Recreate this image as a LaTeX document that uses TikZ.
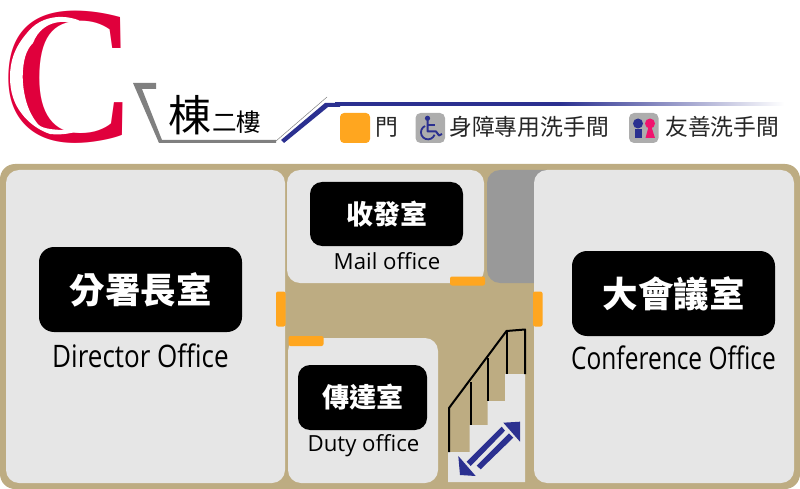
\documentclass[tikz,border=0pt]{standalone}
\usepackage{fontspec}
\setmainfont{Open Sans}
\newfontfamily\cjkfont{Noto Sans CJK TC}
\newfontfamily\condfont[FakeStretch=0.84]{Open Sans}
\newfontfamily\condfontb[FakeStretch=0.79]{Open Sans}
\newfontfamily\logofont[FakeStretch=0.97]{Liberation Serif Bold}
\definecolor{tanfloor}{HTML}{BDAC82}
\definecolor{roomgray}{HTML}{E6E6E6}
\definecolor{doororange}{HTML}{FFA61F}
\definecolor{navyline}{HTML}{2B3090}
\definecolor{cred}{HTML}{E0003C}
\definecolor{iconpink}{HTML}{F0146E}
\tikzset{
	room/.style={fill=roomgray, rounded corners=13pt},
	door/.style={fill=doororange, rounded corners=2pt},
	iconbox/.style={fill=black!32, rounded corners=5pt},
	plate/.style={fill=black, text=white, rounded corners=#1, inner sep=0pt, font=\cjkfont\bfseries},
	plate/.default=15pt,
	legendtext/.style={inner sep=0pt, font=\cjkfont\fontsize{22.8}{22.8}\selectfont, text=black!85},
	engtext/.style={inner sep=0pt, text=black},
	railing/.style={line width=2pt, line join=round}
}

\begin{document}
\begin{tikzpicture}[x=1pt, y=-1pt]
	\useasboundingbox (0, 0) rectangle (800, 489);
	%%%%% HEADER %%%%%
	\node[inner sep=0pt, text=cred, font=\logofont\fontsize{197}{197}\selectfont] (bigC) at (68, 77) {C};
	\fill[white] (97, 43) .. controls (90, 30) and (85, 24) .. (78, 20) .. controls (62, 14) and (40, 16) .. (27, 33) .. controls (14, 48) and (10, 62) .. (10, 77) .. controls (10, 92) and (14, 104) .. (22, 114) .. controls (28, 122) and (38, 130) .. (50, 134) .. controls (70, 136) and (90, 130) .. (100, 113) .. controls (96, 120) and (82, 130) .. (67, 130) .. controls (50, 130) and (40, 128) .. (37, 123) .. controls (28, 112) and (23, 95) .. (22.7, 77) .. controls (23, 60) and (26, 50) .. (33, 43) .. controls (38, 30) and (48, 23) .. (60, 22) .. controls (72, 21) and (85, 26) .. (97, 43) -- cycle;
	\fill[black!50] (133, 83) -- (156, 83) -- (156, 89) -- (142, 89) -- (162, 140) -- (276, 140) -- (276, 143) -- (159, 143) -- cycle;
	\draw[black!50, line width=0.5pt] (276, 141) -- (327, 97);
	\fill[navyline] (281, 140) -- (325, 103) -- (340, 103) -- (340, 107) -- (328, 107) -- (284, 143) -- cycle;
	\shade[left color=navyline, right color=white, middle color=navyline] (335, 103) rectangle (784, 106);
	\node[inner sep=0pt, font=\cjkfont\fontsize{43}{43}\selectfont] (wingname) at (190, 115) {棟};
	\node[inner sep=0pt, font=\cjkfont\fontsize{24.5}{24.5}\selectfont, anchor=west] (floorname) at (212, 122) {二樓};
	%%%%% LEGEND %%%%%
	\fill[door, rounded corners=4pt] (340, 113) rectangle (370, 143);
	\node[legendtext, anchor=west] (doorlabel) at (375, 127) {門};
	\fill[iconbox] (415.5, 113) rectangle (445, 143);
	\fill[navyline] (427.5, 118.3) circle (2.6);
	\draw[navyline, line width=2pt, line join=round] (427.5, 120) -- (427.5, 131.5) -- (436, 131.5) -- (439, 135.5) -- (442, 134);
	\draw[navyline, line width=1.6pt] (427.5, 125) -- (435, 125);
	\draw[navyline, line width=1.8pt] (425, 126) arc (-115:-340:7);
	\node[legendtext, anchor=west] (accesslabel) at (449, 127) {身障專用洗手間};
	\fill[iconbox] (629, 113) rectangle (658.5, 143);
	\fill[navyline] (638, 123.5) circle (5);
	\fill[navyline] (635, 129.5) rectangle (641.5, 138);
	\fill[iconpink] (650, 123.5) circle (5);
	\fill[iconpink] (648.5, 127) -- (651.5, 127) -- (655, 138) -- (645.5, 138) -- cycle;
	\node[legendtext, anchor=west] (friendlylabel) at (665, 127) {友善洗手間};
	%%%%% FLOOR %%%%%
	\fill[tanfloor, rounded corners=15pt] (0, 164) rectangle (800, 489);
	\fill[room] (6, 170) rectangle (285, 483);
	\fill[room] (287, 170) rectangle (484, 283);
	\fill[black!40, rounded corners=13pt] (487, 170) rectangle (560, 283);
	\fill[room] (534, 170) rectangle (794, 483);
	\fill[room] (288, 338) rectangle (438, 483);
	%%%%% STAIRS %%%%%
	\fill[roomgray] (448, 482) -- (448, 452) -- (469.5, 452) -- (469.5, 425) -- (487.5, 425) -- (487.5, 401) -- (505, 401) -- (505, 374) -- (525, 374) -- (525, 482) -- cycle;
	\draw[railing] (449, 452) -- (449, 408) -- (506.5, 331) -- (525, 329.5) -- (525, 374);
	\draw[railing] (470.5, 382) -- (470.5, 425);
	\draw[railing] (487.5, 358) -- (487.5, 401);
	\draw[railing] (506.5, 331) -- (506.5, 374);
	\fill[navyline] (503.3, 422.7) -- (520, 421.7) -- (520, 441.7) -- cycle;
	\fill[navyline] (509, 433.3) -- (513.3, 437.7) -- (480.7, 469.3) -- (476.7, 465.7) -- cycle;
	\fill[navyline] (458.3, 456) -- (460, 475) -- (475.7, 476) -- cycle;
	\fill[navyline] (501.7, 426.7) -- (505, 430.7) -- (470.7, 466) -- (466.7, 461.7) -- cycle;
	%%%%% DOORS %%%%%
	\fill[door] (276, 291.5) rectangle (285.5, 326.5);
	\fill[door] (533, 291.5) rectangle (542.5, 326.5);
	\fill[door] (450, 276.5) rectangle (485, 285.5);
	\fill[door] (288.5, 336) rectangle (323.5, 346);
	%%%%% LABELS %%%%%
	\node[plate, minimum width=203pt, minimum height=85pt, font=\cjkfont\bfseries\fontsize{35.5}{35.5}\selectfont] (director) at (140.5, 289.5) {分署長室};
	\node[engtext, font=\condfont\fontsize{31}{31}\selectfont] (directoreng) at (140.5, 356) {Director Office};
	\node[plate, minimum width=203pt, minimum height=85pt, font=\cjkfont\bfseries\fontsize{35.5}{35.5}\selectfont] (conference) at (673.5, 293.5) {大會議室};
	\node[engtext, font=\condfontb\fontsize{31}{31}\selectfont] (conferenceeng) at (673.5, 358) {Conference Office};
	\node[plate=12pt, minimum width=153pt, minimum height=64pt, font=\cjkfont\bfseries\fontsize{27}{27}\selectfont] (mail) at (386.5, 214) {收發室};
	\node[engtext, font=\fontsize{22.2}{22.2}\selectfont] (maileng) at (387, 261) {Mail office};
	\node[plate=12pt, minimum width=129pt, minimum height=65pt, font=\cjkfont\bfseries\fontsize{27}{27}\selectfont] (duty) at (362.5, 397.5) {傳達室};
	\node[engtext, font=\fontsize{22.2}{22.2}\selectfont] (dutyeng) at (363.5, 446) {Duty office};
\end{tikzpicture}
\end{document}
